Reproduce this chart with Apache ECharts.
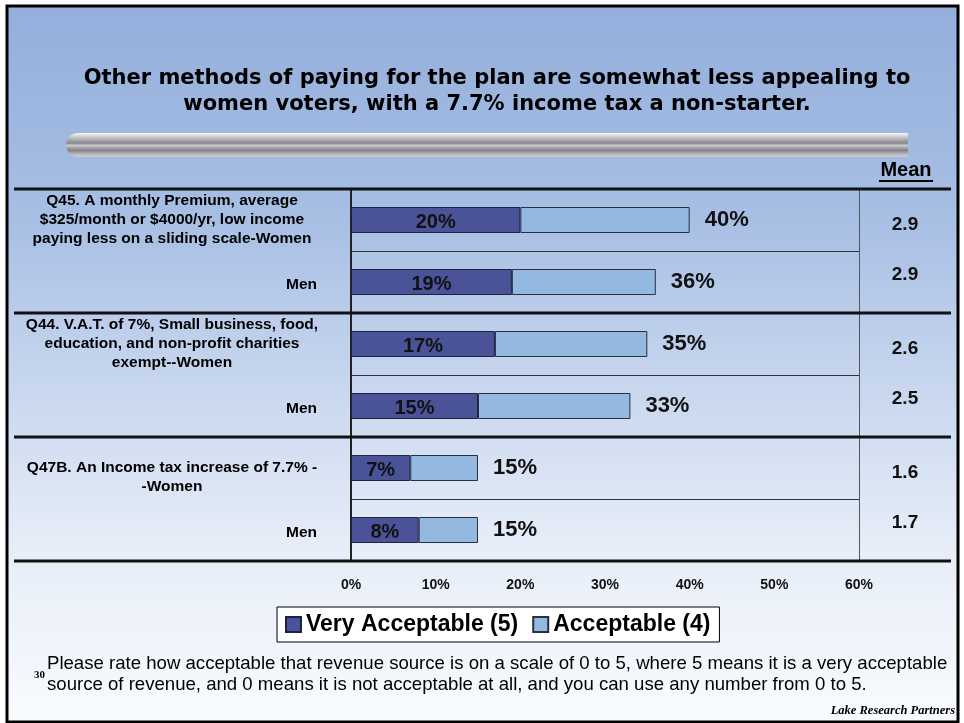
<!DOCTYPE html>
<html>
<head>
<meta charset="utf-8">
<script src="https://cdn.jsdelivr.net/npm/echarts@6/dist/echarts.min.js"></script>
<style>
  html, body { margin: 0; padding: 0; background: #ffffff; }
  #chart { width: 964px; height: 723px; }
</style>
</head>
<body>
<div id="chart"></div>
<script>
// Row labels (question text on the first row of each pair, "Men" on the second)
const rowLabels = [
  'Q45. A monthly Premium, average\n$325/month or $4000/yr, low income\npaying less on a sliding scale-Women',
  'Men',
  'Q44. V.A.T. of 7%, Small business, food,\neducation, and non-profit charities\nexempt--Women',
  'Men',
  '\nQ47B. An Income tax increase of 7.7% -\n-Women',
  'Men'
];
// Share rating 5 (very acceptable)
const veryAcceptable = [20, 19, 17, 15, 7, 8];
// Share rating 4 or 5 combined
const totalAcceptable = [40, 36, 35, 33, 15, 15];
// Share rating exactly 4 = combined minus very acceptable
const acceptable = totalAcceptable.map((t, i) => t - veryAcceptable[i]);
// Mean rating on the 0-5 scale
const means = ['2.9', '2.9', '2.6', '2.5', '1.6', '1.7'];
const xTicks = { min: 0, max: 60, interval: 10 };
const seriesNames = ['Very Acceptable (5)', 'Acceptable (4)'];

const ARIAL = '"Liberation Sans", Arial, sans-serif';
const chart = echarts.init(document.getElementById('chart'), null, { renderer: 'canvas' });

const baseGraphics = [
  // slide background + frame
  { type: 'rect', z: -100, shape: { x: 7, y: 6, width: 951, height: 716 },
    style: { fill: { type: 'linear', x: 0, y: 0, x2: 0, y2: 1, colorStops: [
      { offset: 0, color: '#94afdc' }, { offset: 0.3, color: '#a8bfe4' },
      { offset: 0.75, color: '#e6edf8' }, { offset: 1, color: '#f9fbfe' } ] },
      stroke: '#000', lineWidth: 3 } },
  // title
  { type: 'text', x: 497, y: 92, z: 10,
    style: { text: 'Other methods of paying for the plan are somewhat less appealing to\nwomen voters, with a 7.7% income tax a non-starter.',
      font: 'bold 21px "DejaVu Sans", Verdana, sans-serif', fill: '#000',
      align: 'center', verticalAlign: 'middle', lineHeight: 26 } },
  // silver rule
  { type: 'rect', z: 5, shape: { x: 66, y: 133, width: 842, height: 24, r: [12, 0, 0, 12] },
    style: { fill: { type: 'linear', x: 0, y: 0, x2: 0, y2: 1, colorStops: [
      { offset: 0, color: '#f8f8f8' }, { offset: 0.08, color: '#e2e2e4' },
      { offset: 0.25, color: '#b4b4b8' }, { offset: 0.42, color: '#86868e' },
      { offset: 0.52, color: '#c9c9cd' }, { offset: 0.62, color: '#a4a4aa' },
      { offset: 0.72, color: '#80808a' }, { offset: 0.88, color: '#b9b9bd' },
      { offset: 1, color: '#cfcfd2' } ] } } },
  // column header
  { type: 'text', x: 906, y: 170, z: 10,
    style: { text: 'Mean', font: 'bold 20px ' + ARIAL, fill: '#000', align: 'center', verticalAlign: 'middle' } },
  { type: 'line', z: 10, shape: { x1: 879, y1: 181, x2: 933, y2: 181 }, style: { stroke: '#000', lineWidth: 2 } },
  // question note
  { type: 'text', x: 34, y: 675, z: 10,
    style: { text: '30', font: 'bold 11px "Liberation Serif", serif', fill: '#000', verticalAlign: 'middle' } },
  { type: 'text', x: 47, y: 674, z: 10,
    style: { text: 'Please rate how acceptable that revenue source is on a scale of 0 to 5, where 5 means it is a very acceptable\nsource of revenue, and 0 means it is not acceptable at all, and you can use any number from 0 to 5.',
      font: '18.6px ' + ARIAL, fill: '#000', verticalAlign: 'middle', lineHeight: 21 } },
  { type: 'text', x: 955, y: 711, z: 10,
    style: { text: 'Lake Research Partners', font: 'italic bold 12.5px "Liberation Serif", serif', fill: '#000',
      align: 'right', verticalAlign: 'middle' } }
];

const option = {
  animation: false,
  grid: { left: 351, right: 105, top: 189, bottom: 162, containLabel: false },
  legend: {
    data: seriesNames,
    left: 277, top: 607,
    backgroundColor: '#ffffff', borderColor: '#000', borderWidth: 1,
    padding: [6, 9, 6, 8], itemGap: 14, itemWidth: 15, itemHeight: 15, icon: 'rect',
    textStyle: { fontFamily: ARIAL, fontWeight: 'bold', fontSize: 23, color: '#000' }
  },
  xAxis: {
    type: 'value', min: xTicks.min, max: xTicks.max, interval: xTicks.interval,
    axisLine: { show: false }, axisTick: { show: false }, splitLine: { show: false },
    axisLabel: { formatter: '{value}%', margin: 17, fontFamily: ARIAL, fontWeight: 'bold', fontSize: 14, color: '#111' }
  },
  yAxis: [
    {
      type: 'category', inverse: true, data: rowLabels,
      axisLine: { show: true, lineStyle: { color: '#222', width: 2 } },
      axisTick: { show: false },
      splitLine: { show: true, lineStyle: { color: '#333', width: 1 } },
      axisLabel: {
        margin: 34, align: 'right', fontFamily: ARIAL, fontWeight: 'bold', fontSize: 15.5, color: '#000',
        formatter: (v, i) => i % 2 === 0 ? '{q|' + v + '}' : '{m|' + v + '}',
        rich: {
          q: { width: 290, align: 'center', fontFamily: ARIAL, fontWeight: 'bold', fontSize: 15.5, lineHeight: 19, color: '#000' },
          m: { fontFamily: ARIAL, fontWeight: 'bold', fontSize: 15.5, color: '#000', padding: [6, 0, 0, 0] }
        }
      }
    },
    {
      type: 'category', inverse: true, position: 'right', data: means,
      axisLine: { show: true, lineStyle: { color: '#555', width: 1 } },
      axisTick: { show: false }, splitLine: { show: false },
      axisLabel: {
        margin: 46, align: 'center', color: '#111',
        formatter: (v, i) => i % 2 === 0 ? '{w|' + v + '}' : '{n|' + v + '}',
        rich: {
          w: { fontFamily: ARIAL, fontWeight: 'bold', fontSize: 19, color: '#111', padding: [9, 0, 0, 0] },
          n: { fontFamily: ARIAL, fontWeight: 'bold', fontSize: 19, color: '#111', padding: [0, 0, 14, 0] }
        }
      }
    }
  ],
  series: [
    {
      name: seriesNames[0], type: 'bar', stack: 'acc', yAxisIndex: 0, barWidth: 26,
      data: veryAcceptable,
      itemStyle: { color: '#4a5398', borderColor: '#1e2240', borderWidth: 1 },
      label: { show: true, position: 'inside', offset: [0, 2], formatter: '{c}%',
        fontFamily: ARIAL, fontWeight: 'bold', fontSize: 20, color: '#111' }
    },
    {
      name: seriesNames[1], type: 'bar', stack: 'acc', yAxisIndex: 0, barWidth: 26,
      data: acceptable,
      itemStyle: { color: '#93b9e0', borderColor: '#2a2e40', borderWidth: 1 },
      label: { show: true, position: 'right', distance: 15,
        formatter: p => totalAcceptable[p.dataIndex] + '%',
        fontFamily: ARIAL, fontWeight: 'bold', fontSize: 22, color: '#111' }
    }
  ],
  graphic: baseGraphics
};

chart.setOption(option);

// Heavy rules separating question groups, placed on the category band edges
const centers = rowLabels.map((_, i) => chart.convertToPixel({ yAxisIndex: 0 }, i));
const half = (centers[1] - centers[0]) / 2;
const groupEdges = [centers[0] - half, (centers[1] + centers[2]) / 2, (centers[3] + centers[4]) / 2, centers[5] + half];
const rules = groupEdges.map(y => ({
  type: 'line', z: 20, shape: { x1: 14, y1: Math.round(y), x2: 951, y2: Math.round(y) },
  style: { stroke: '#111', lineWidth: 3 }
}));
chart.setOption({ graphic: baseGraphics.concat(rules) });
</script>
</body>
</html>
